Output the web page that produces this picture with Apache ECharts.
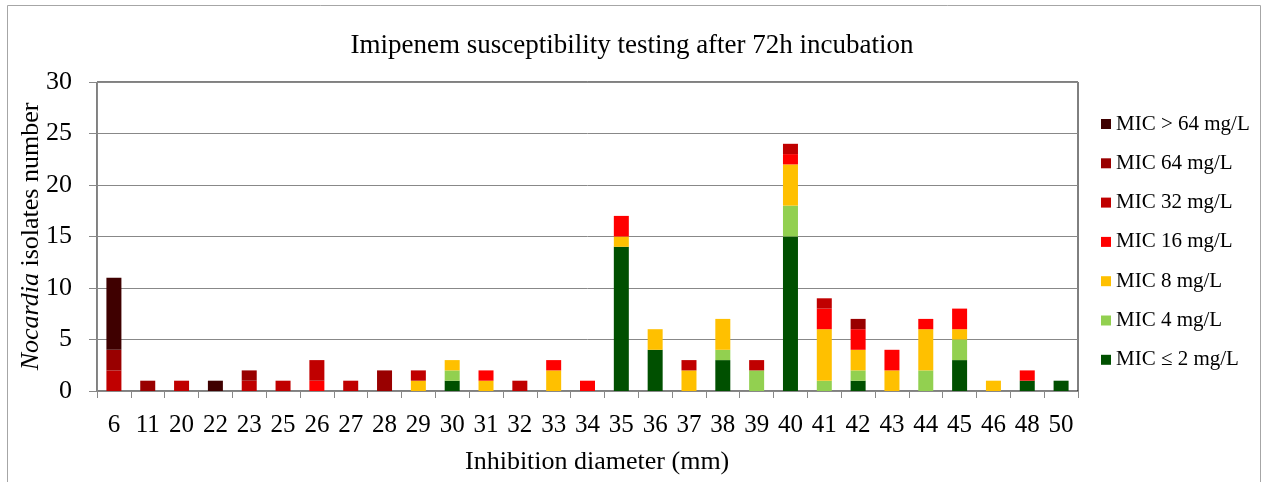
<!DOCTYPE html>
<html><head><meta charset="utf-8">
<script src="https://cdn.jsdelivr.net/npm/echarts@6/dist/echarts.min.js"></script>
<style>html,body{margin:0;padding:0;background:#fff}#c{width:1264px;height:482px}</style>
</head><body><div id="c"></div>
<script>
const categories = ['6','11','20','22','23','25','26','27','28','29','30','31','32','33','34','35','36','37','38','39','40','41','42','43','44','45','46','48','50'];
const micLe2 = [0,0,0,0,0,0,0,0,0,0,1,0,0,0,0,14,4,0,3,0,15,0,1,0,0,3,0,1,1];
const mic4   = [0,0,0,0,0,0,0,0,0,0,1,0,0,0,0,0,0,0,1,2,3,1,1,0,2,2,0,0,0];
const mic8   = [0,0,0,0,0,0,0,0,0,1,1,1,0,2,0,1,2,2,3,0,4,5,2,2,4,1,1,0,0];
const mic16  = [0,0,0,0,0,0,1,0,0,0,0,1,0,1,1,2,0,0,0,0,1,2,2,2,1,2,0,1,0];
const mic32  = [2,0,1,0,1,1,2,1,0,1,0,0,1,0,0,0,0,1,0,1,1,1,0,0,0,0,0,0,0];
const mic64  = [2,1,0,0,1,0,0,0,2,0,0,0,0,0,0,0,0,0,0,0,0,0,1,0,0,0,0,0,0];
const micGt64= [7,0,0,1,0,0,0,0,0,0,0,0,0,0,0,0,0,0,0,0,0,0,0,0,0,0,0,0,0];
const seriesNames = ['MIC ≤ 2 mg/L','MIC 4 mg/L','MIC 8 mg/L','MIC 16 mg/L','MIC 32 mg/L','MIC 64 mg/L','MIC > 64 mg/L'];
const seriesData = [micLe2, mic4, mic8, mic16, mic32, mic64, micGt64];
const colors = ['#005000','#92d050','#ffc000','#ff0000','#c00000','#990000','#3f0000'];
const yTicks = [0,5,10,15,20,25,30];

const FF = 'Liberation Serif';
const chart = echarts.init(document.getElementById('c'), null, {renderer:'canvas'});
chart.setOption({
  animation:false,
  backgroundColor:'#fff',
  textStyle:{fontFamily:FF},
  title:{text:'Imipenem susceptibility testing after 72h incubation', left:'center', top:27,
    textStyle:{fontFamily:FF, fontSize:27, fontWeight:'normal', color:'#000'}},
  graphic:[
    {type:'rect', shape:{x:7.5,y:5.5,width:1253,height:520}, style:{fill:'none', stroke:'#a6a6a6', lineWidth:1}, silent:true},
    {type:'text', left:465, top:449, style:{text:'Inhibition diameter (mm)', font:'26px "Liberation Serif"', fill:'#000'}}
  ],
  legend:{orient:'vertical', left:1096, top:107, itemWidth:10, itemHeight:10, itemGap:15.3,
    data:seriesNames.slice().reverse(), icon:'rect',
    textStyle:{fontFamily:FF, fontSize:21, color:'#000', lineHeight:24}},
  grid:{left:97, right:186, top:82, bottom:91, show:true, borderColor:'#000', borderWidth:1, backgroundColor:'transparent'},
  xAxis:{type:'category', data:categories,
    axisLine:{lineStyle:{color:'#888', width:1}},
    axisTick:{show:true, length:7, lineStyle:{color:'#888'}},
    axisLabel:{color:'#000', fontSize:25, fontFamily:FF, margin:22, interval:0}},
  yAxis:{type:'value', min:yTicks[0], max:yTicks[yTicks.length-1], interval:5,
    name:'{i|Nocardia} isolates number', nameLocation:'middle', nameGap:53, nameRotate:90, nameMoveOverlap:false,
    nameTextStyle:{fontFamily:FF, fontSize:26, color:'#000', rich:{i:{fontFamily:FF, fontSize:26, fontStyle:'italic', color:'#000'}}},
    axisLine:{show:true, lineStyle:{color:'#888', width:1}},
    axisTick:{show:true, length:8, lineStyle:{color:'#888'}},
    splitLine:{lineStyle:{color:'#888', width:1}},
    axisLabel:{color:'#000', fontSize:26, fontFamily:FF, margin:25}},
  series: seriesNames.map((n,i)=>({name:n, type:'bar', stack:'a', data:seriesData[i], barWidth:15,
    itemStyle:{color:colors[i]}}))
});
</script></body></html>
